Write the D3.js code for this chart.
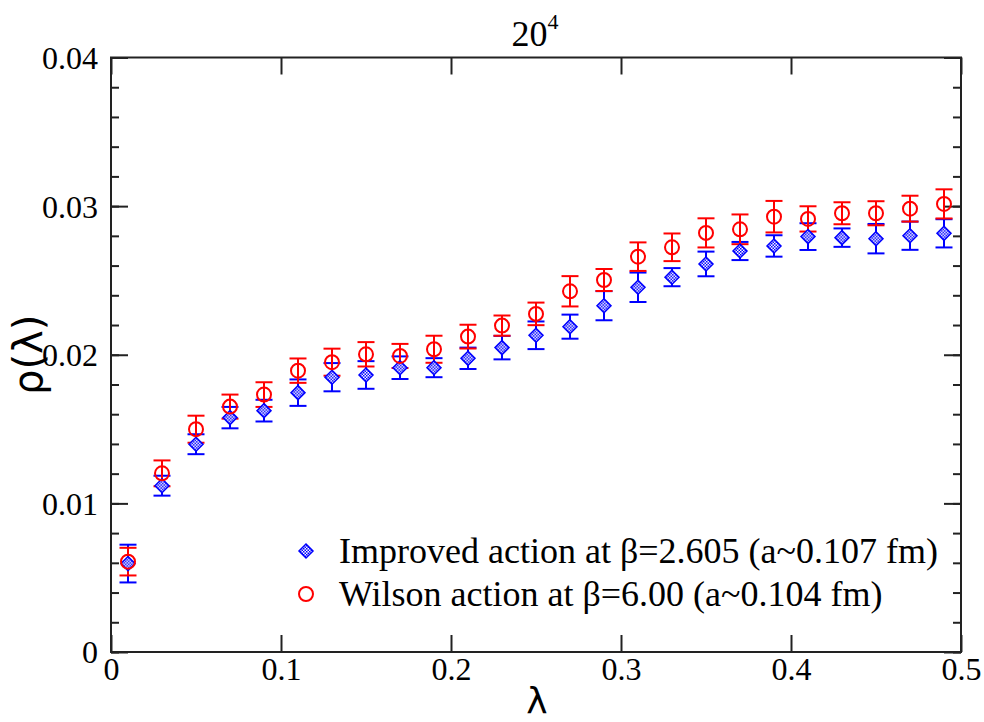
<!DOCTYPE html>
<html>
<head>
<meta charset="utf-8">
<script src="https://cdn.jsdelivr.net/npm/d3@7"></script>
<style>
  html, body { margin: 0; padding: 0; background: #fff; }
  svg { display: block; }
  text { font-family: "Liberation Serif", "Times New Roman", Times, serif; fill: #000; }
</style>
</head>
<body>
<svg id="chart" width="984" height="722"></svg>
<script>
// ---- data ----
const lambdaValues = [0.01,0.03,0.05,0.07,0.09,0.11,0.13,0.15,0.17,0.19,0.21,0.23,0.25,0.27,0.29,0.31,0.33,0.35,0.37,0.39,0.41,0.43,0.45,0.47,0.49];
const improvedRho = [0.00595,0.01119,0.01398,0.01577,0.01624,0.01745,0.01849,0.01864,0.01913,0.01913,0.01976,0.02048,0.02131,0.02189,0.02330,0.02454,0.02522,0.02611,0.02698,0.02732,0.02795,0.02788,0.02781,0.02801,0.02817];
const improvedErr = [0.00127,0.00067,0.00067,0.00072,0.00073,0.00089,0.00095,0.00093,0.00076,0.00064,0.00072,0.00079,0.00093,0.00081,0.00098,0.00099,0.00061,0.00083,0.00061,0.00072,0.00090,0.00062,0.00099,0.00095,0.00095];
const wilsonRho = [0.00608,0.01202,0.01499,0.01651,0.01732,0.01893,0.01950,0.02003,0.01992,0.02037,0.02122,0.02196,0.02275,0.02427,0.02503,0.02660,0.02723,0.02820,0.02844,0.02929,0.02914,0.02952,0.02952,0.02983,0.03015];
const wilsonErr = [0.00093,0.00087,0.00091,0.00081,0.00083,0.00082,0.00091,0.00082,0.00081,0.00091,0.00080,0.00068,0.00076,0.00102,0.00074,0.00096,0.00093,0.00098,0.00100,0.00106,0.00085,0.00074,0.00081,0.00087,0.00098];
const xTicks = [0, 0.1, 0.2, 0.3, 0.4, 0.5];
const xTickLabels = ["0", "0.1", "0.2", "0.3", "0.4", "0.5"];
const yTicks = [0, 0.01, 0.02, 0.03, 0.04];
const yTickLabels = ["0", "0.01", "0.02", "0.03", "0.04"];
const seriesNames = ["Improved action at \u03B2=2.605 (a~0.107 fm)", "Wilson action at \u03B2=6.00 (a~0.104 fm)"];

// ---- layout ----
const SERIF = "'Liberation Serif', 'Times New Roman', Times, serif";
const SANS = "'DejaVu Sans', 'Liberation Sans', sans-serif";
const svg = d3.select("#chart");
const L = 111, R = 961, T = 57.5, B = 652;
const x = d3.scaleLinear().domain([0, 0.5]).range([L, R]);
const y = d3.scaleLinear().domain([0, 0.04]).range([B, T]);
const blue = "#0000ff", red = "#ff0000";

// pattern for diamond fill
const defs = svg.append("defs");
const pat = defs.append("pattern").attr("id", "hatch").attr("patternUnits", "userSpaceOnUse")
  .attr("width", 3).attr("height", 3);
pat.append("rect").attr("width", 3).attr("height", 3).attr("fill", "#ffffff");
pat.append("rect").attr("width", 1.5).attr("height", 1.5).attr("fill", blue);
pat.append("rect").attr("x", 1.5).attr("y", 1.5).attr("width", 1.5).attr("height", 1.5).attr("fill", blue);

// ---- axes ----
const minorY = d3.range(0, 0.0401, 0.002);
const axColor = "#222";
function styleAxis(g) {
  g.select(".domain").remove();
  g.selectAll(".tick line").attr("stroke", axColor).attr("stroke-width", 2);
}
svg.append("g").attr("transform", `translate(0,${B})`)
  .call(d3.axisBottom(x).tickValues(xTicks).tickFormat((d, i) => xTickLabels[i]).tickSizeInner(-17).tickSizeOuter(0))
  .call(styleAxis)
  .call(g => g.selectAll(".tick text").attr("font-size", 32).attr("y", 28).attr("dy", 0)
        .style("font-family", SERIF));
svg.append("g").attr("transform", `translate(0,${T})`)
  .call(d3.axisTop(x).tickValues(xTicks).tickFormat("").tickSizeInner(-17).tickSizeOuter(0))
  .call(styleAxis);
svg.append("g").attr("transform", `translate(${L},0)`)
  .call(d3.axisLeft(y).tickValues(minorY).tickFormat("").tickSizeInner(-8).tickSizeOuter(0))
  .call(styleAxis);
svg.append("g").attr("transform", `translate(${L},0)`)
  .call(d3.axisLeft(y).tickValues(yTicks).tickFormat((d, i) => yTickLabels[i]).tickSizeInner(-17).tickSizeOuter(0))
  .call(styleAxis)
  .call(g => g.selectAll(".tick text").attr("font-size", 32).attr("x", -13).attr("dy", "0.34em")
        .style("font-family", SERIF));
svg.append("g").attr("transform", `translate(${R},0)`)
  .call(d3.axisRight(y).tickValues(minorY).tickFormat("").tickSizeInner(-8).tickSizeOuter(0))
  .call(styleAxis);
svg.append("g").attr("transform", `translate(${R},0)`)
  .call(d3.axisRight(y).tickValues(yTicks).tickFormat("").tickSizeInner(-17).tickSizeOuter(0))
  .call(styleAxis);
svg.append("rect").attr("x", L).attr("y", T).attr("width", R - L).attr("height", B - T)
  .attr("fill", "none").attr("stroke", axColor).attr("stroke-width", 2);

// ---- titles ----
const title = svg.append("text").attr("x", (L + R) / 2 - 1).attr("y", 46).attr("text-anchor", "middle")
  .style("font-family", SERIF).style("font-size", "36px");
title.append("tspan").text("20");
title.append("tspan").attr("dy", -17).style("font-size", "22px").text("4");
svg.append("text").attr("x", (L + R) / 2 + 1).attr("y", 713).attr("text-anchor", "middle")
  .style("font-family", SANS).style("font-size", "36px").text("\u03BB");
svg.append("text").attr("transform", `translate(42,${(T + B) / 2}) rotate(-90)`).attr("text-anchor", "middle")
  .style("font-family", SANS).style("font-size", "40px").text("\u03C1(\u03BB)");

// ---- data marks ----
const plot = svg.append("g");
function errorBars(vals, errs, color) {
  const g = plot.append("g").attr("stroke", color).attr("stroke-width", 2).attr("fill", "none");
  lambdaValues.forEach((lx, i) => {
    const cx = x(lx), y1 = y(vals[i] + errs[i]), y2 = y(vals[i] - errs[i]);
    g.append("line").attr("x1", cx).attr("x2", cx).attr("y1", y1).attr("y2", y2);
    g.append("line").attr("x1", cx - 8.5).attr("x2", cx + 8.5).attr("y1", y1).attr("y2", y1);
    g.append("line").attr("x1", cx - 8.5).attr("x2", cx + 8.5).attr("y1", y2).attr("y2", y2);
  });
}
errorBars(improvedRho, improvedErr, blue);
errorBars(wilsonRho, wilsonErr, red);

const diamond = s => `M0,${-s}L${s},0L0,${s}L${-s},0Z`;
plot.append("g").selectAll("path").data(lambdaValues).join("path")
  .attr("transform", (d, i) => `translate(${x(d)},${y(improvedRho[i])})`)
  .attr("d", diamond(7)).attr("fill", "url(#hatch)").attr("stroke", blue).attr("stroke-width", 1.5);
plot.append("g").selectAll("circle").data(lambdaValues).join("circle")
  .attr("cx", d => x(d)).attr("cy", (d, i) => y(wilsonRho[i])).attr("r", 7)
  .attr("fill", "none").attr("stroke", red).attr("stroke-width", 2);

// ---- legend ----
const leg = svg.append("g");
leg.append("path").attr("transform", "translate(306,551)").attr("d", diamond(7))
  .attr("fill", "url(#hatch)").attr("stroke", blue).attr("stroke-width", 1.5);
leg.append("circle").attr("cx", 306).attr("cy", 594).attr("r", 7).attr("fill", "none").attr("stroke", red).attr("stroke-width", 2);
leg.append("text").attr("x", 339).attr("y", 563).style("font-family", SERIF).style("font-size", "36px").text(seriesNames[0]);
leg.append("text").attr("x", 339).attr("y", 606).style("font-family", SERIF).style("font-size", "36px").text(seriesNames[1]);
</script>
</body>
</html>
